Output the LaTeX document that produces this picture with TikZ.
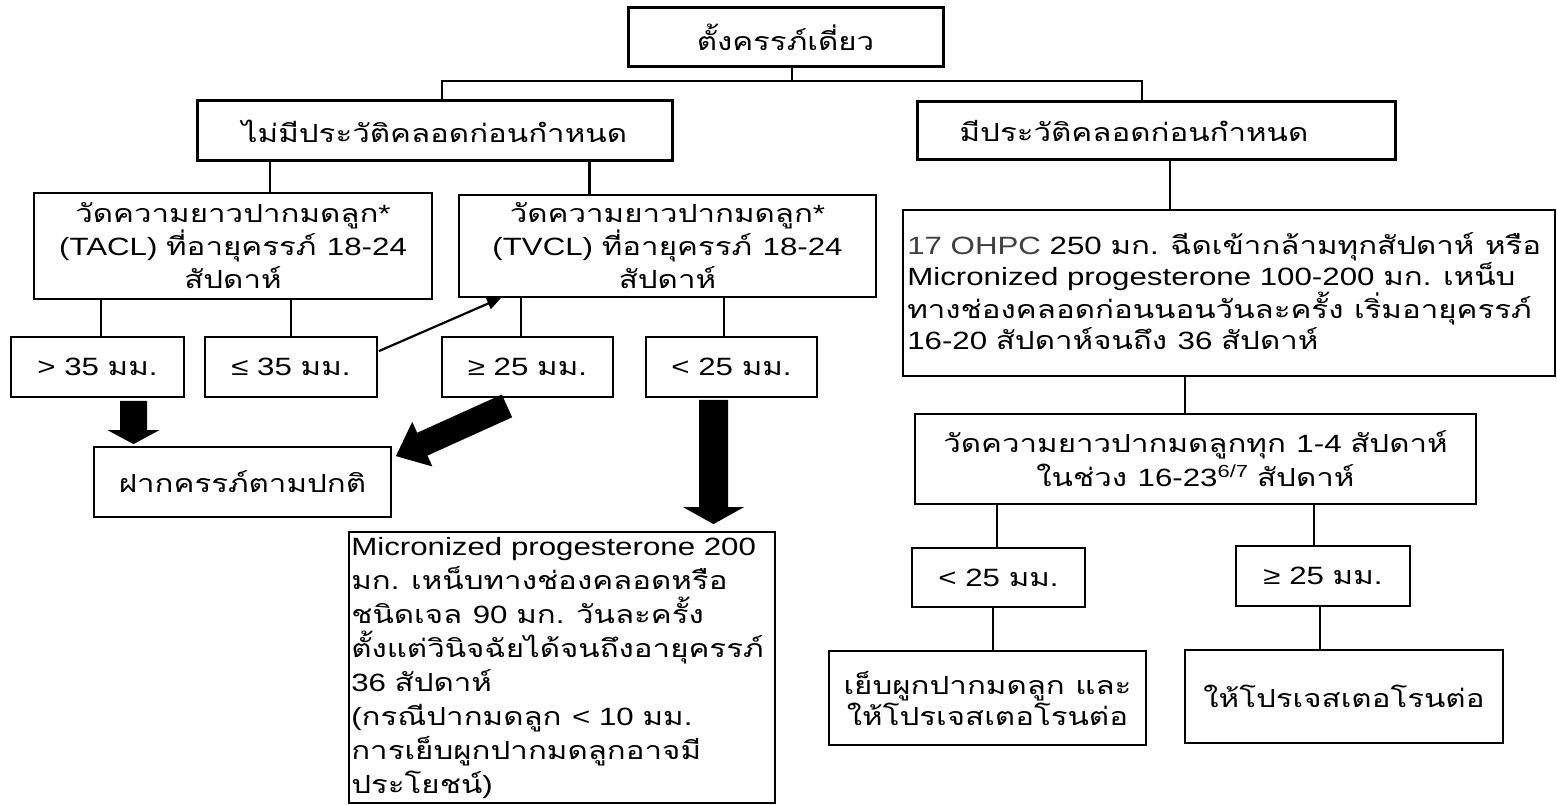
\documentclass[tikz,border=0pt]{standalone}
\usepackage{fontspec}
\setmainfont{Liberation Sans}[FakeStretch=1.25]
\newfontfamily\thaifont{Loma}[Script=Thai,FakeStretch=1.25]
\usetikzlibrary{calc,arrows.meta}
\XeTeXinterchartokenstate=1
\newXeTeXintercharclass\thaicls
\newcount\thc
\thc="0E00
\loop\XeTeXcharclass\thc=\thaicls\ifnum\thc<"0E7F\advance\thc by 1\repeat
\XeTeXinterchartoks 0 \thaicls={\thaifont}
\XeTeXinterchartoks 4095 \thaicls={\thaifont}
\XeTeXinterchartoks \thaicls 0={\rmfamily}
\XeTeXinterchartoks 4095 0={\rmfamily}
\newcommand\blockarr[5]{%
  \path ($(#2)!#5!(#1)$) coordinate (bh);
  \fill ($(#1)!#3!90:(#2)$) -- ($(bh)!#3!90:(#2)$) -- ($(bh)!#4!90:(#2)$) -- (#2)
     -- ($(bh)!#4!-90:(#2)$) -- ($(bh)!#3!-90:(#2)$) -- ($(#1)!#3!-90:(#2)$) -- cycle;}
\newcommand\vconn[3]{\draw[conn] ($(#1.south)+(#3,0)$) coordinate (tmp) -- (tmp |- #2.north);}
\begin{document}
\begin{tikzpicture}[x=1pt,y=-1pt,
  box/.style={draw, line width=1.8pt, inner sep=0pt, align=center,
    font=\fontsize{25}{33}\selectfont},
  tbox/.style={box, line width=3pt},
  txt/.style={inner sep=0pt, align=left, anchor=west},
  conn/.style={line width=2.2pt}]
\useasboundingbox[fill=white] (0,0) rectangle (1557,805);
% boxes
\node[tbox, minimum width=315pt, minimum height=59pt] (top) at (785.5,37.5) {ตั้งครรภ์เดี่ยว};
\node[tbox, minimum width=475pt, minimum height=60pt] (nohist) at (434.5,131) {ไม่มีประวัติคลอดก่อนกำหนด};
\node[tbox, minimum width=478pt, minimum height=58pt] (hist) at (1156,131) {มีประวัติคลอดก่อนกำหนด\hspace*{44pt}};
\node[box, minimum width=398pt, minimum height=106pt] (tacl) at (233,246) {วัดความยาวปากมดลูก*\\(TACL) ที่อายุครรภ์ 18-24\\สัปดาห์};
\node[box, minimum width=417pt, minimum height=102pt] (tvcl) at (667.5,246) {วัดความยาวปากมดลูก*\\(TVCL) ที่อายุครรภ์ 18-24\\สัปดาห์};
\node[box, minimum width=173pt, minimum height=60pt] (g35) at (97.5,367) {> 35 มม.};
\node[box, minimum width=172pt, minimum height=60pt] (le35) at (291,367) {≤ 35 มม.};
\node[box, minimum width=171pt, minimum height=60pt] (ge25) at (527.5,367) {≥ 25 มม.};
\node[box, minimum width=171pt, minimum height=60pt] (lt25) at (731.5,367) {< 25 มม.};
\node[box, minimum width=297pt, minimum height=70pt] (normal) at (242.5,482) {ฝากครรภ์ตามปกติ};
\node[box, minimum width=426pt, minimum height=271pt] (micro) at (562,667.5) {};
\node[txt, font=\fontsize{25}{34}\selectfont] (microtxt) at ($(micro.west)+(3,1)$)
  {Micronized progesterone 200\\มก. เหน็บทางช่องคลอดหรือ\\ชนิดเจล 90 มก. วันละครั้ง\\ตั้งแต่วินิจฉัยได้จนถึงอายุครรภ์\\36 สัปดาห์\\(กรณีปากมดลูก < 10 มม.\\การเย็บผูกปากมดลูกอาจมี\\ประโยชน์)};
\node[box, minimum width=652pt, minimum height=166pt] (prog) at (1229,293) {};
\node[txt, font=\fontsize{25}{31}\selectfont] (progtxt) at ($(prog.west)+(5,-2)$)
  {{\color{black!75}17 OHPC} 250 มก. ฉีดเข้ากล้ามทุกสัปดาห์ หรือ\\Micronized progesterone 100-200 มก. เหน็บ\\ทางช่องคลอดก่อนนอนวันละครั้ง เริ่มอายุครรภ์\\16-20 สัปดาห์จนถึง 36 สัปดาห์};
\node[box, minimum width=561pt, minimum height=90pt, font=\fontsize{25}{34}\selectfont] (measure) at (1195.5,459) {วัดความยาวปากมดลูกทุก 1-4 สัปดาห์\\ในช่วง 16-23\textsuperscript{6/7} สัปดาห์};
\node[box, minimum width=173pt, minimum height=59pt] (rlt25) at (998.5,577.5) {< 25 มม.};
\node[box, minimum width=174pt, minimum height=60pt] (rge25) at (1323,576) {≥ 25 มม.};
\node[box, minimum width=317pt, minimum height=94pt, font=\fontsize{25}{31}\selectfont] (cerclage) at (987.5,698) {เย็บผูกปากมดลูก และ\\ให้โปรเจสเตอโรนต่อ};
\node[box, minimum width=318pt, minimum height=93pt] (contprog) at (1344,696.5) {ให้โปรเจสเตอโรนต่อ};
% tree connectors
\coordinate (j0) at (792,81);
\draw[conn] ($(top.south)+(6.5,0)$) -- (j0);
\draw[conn] ($(nohist.north)+(7.5,0)$) |- (j0) -| ($(hist.north)+(-14,0)$);
\vconn{nohist}{tacl}{-164.5}
\vconn{nohist}{tvcl}{155}
\vconn{tacl}{g35}{-132}
\vconn{tacl}{le35}{58}
\vconn{tvcl}{ge25}{-146.5}
\vconn{tvcl}{lt25}{56.5}
\vconn{hist}{prog}{14}
\vconn{prog}{measure}{-44}
\vconn{measure}{rlt25}{-198.5}
\vconn{measure}{rge25}{118.5}
\vconn{rlt25}{cerclage}{-5.5}
\vconn{rge25}{contprog}{-3}
% thin arrow
\draw[conn, -{Triangle[length=14pt,width=12pt]}] ($(le35.north east)+(1,15)$) -- ($(tvcl.south west)+(43,0)$);
% block arrows
\coordinate (a1s) at ($(g35.south)+(36,3)$);
\coordinate (a1e) at ($(normal.north)+(-109,-2)$);
\blockarr{a1s}{a1e}{13.5pt}{26pt}{14pt}
\coordinate (a2s) at ($(ge25.south)+(-20.5,8)$);
\coordinate (a2e) at ($(normal.north east)+(4,10)$);
\blockarr{a2s}{a2e}{12.5pt}{24.5pt}{29pt}
\coordinate (a3s) at ($(lt25.south)+(-18,2)$);
\coordinate (a3e) at ($(micro.north)+(151.5,-7)$);
\blockarr{a3s}{a3e}{14.5pt}{30.5pt}{17pt}
\end{tikzpicture}
\end{document}
